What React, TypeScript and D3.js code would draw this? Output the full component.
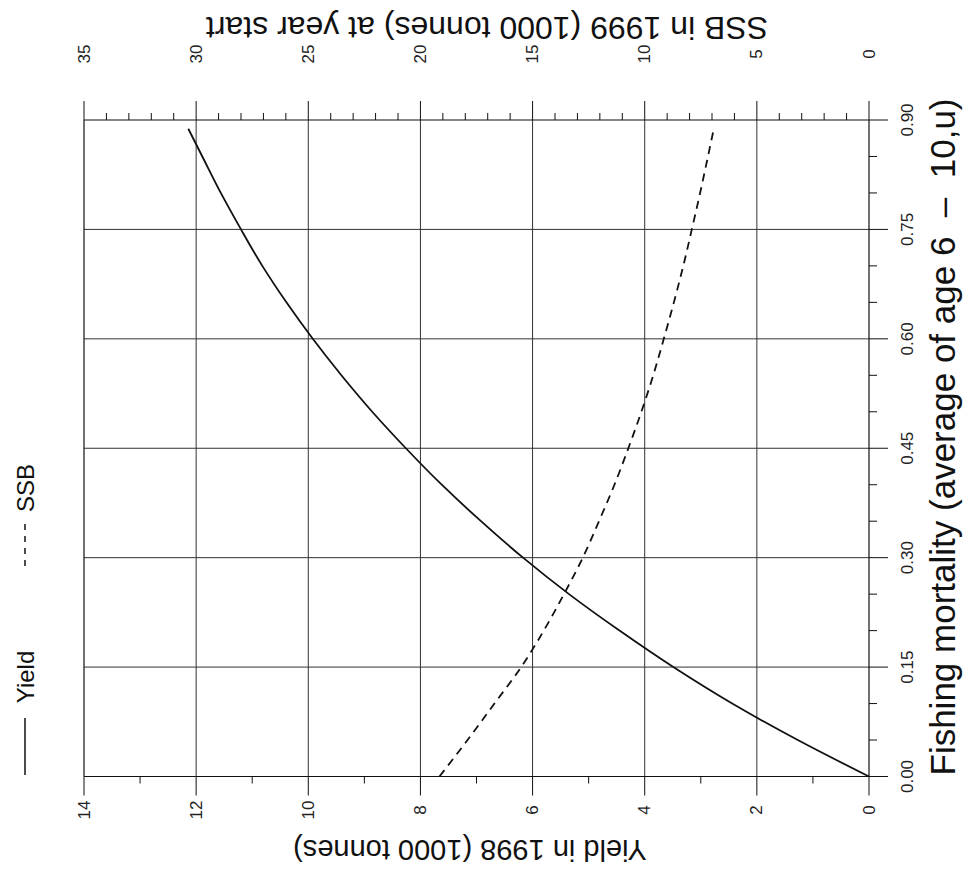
import React from "react";
import * as d3 from "d3";

const fValues = [0, 0.05, 0.1, 0.15, 0.2, 0.25, 0.3, 0.35, 0.4, 0.45, 0.5, 0.55, 0.6, 0.65, 0.7, 0.75, 0.8, 0.85, 0.888];
const yieldValues = [0, 1.27, 2.44, 3.49, 4.45, 5.35, 6.17, 6.92, 7.62, 8.26, 8.86, 9.41, 9.92, 10.39, 10.82, 11.2, 11.56, 11.89, 12.14];
const ssbValues = [19.15, 17.9, 16.7, 15.51, 14.5, 13.6, 12.76, 12.04, 11.35, 10.73, 10.15, 9.62, 9.15, 8.7, 8.28, 7.9, 7.53, 7.18, 6.92];

const fTicks = [0, 0.15, 0.3, 0.45, 0.6, 0.75, 0.9];
const yieldTicks = [0, 2, 4, 6, 8, 10, 12, 14];
const ssbTicks = [0, 5, 10, 15, 20, 25, 30, 35];

const W = 976;
const H = 879;
const FONT = "'Liberation Sans', Arial, Helvetica, sans-serif";

export default function App() {
  const fScale = d3.scaleLinear().domain([0, 0.9]).range([776.5, 120]);
  const yScale = d3.scaleLinear().domain([0, 14]).range([869, 84]);
  const sScale = d3.scaleLinear().domain([0, 35]).range([869, 84]);

  const yieldLine = d3
    .line<number>()
    .x((d, i) => yScale(yieldValues[i]))
    .y((d) => fScale(d))
    .curve(d3.curveMonotoneY);
  const ssbLine = d3
    .line<number>()
    .x((d, i) => sScale(ssbValues[i]))
    .y((d) => fScale(d))
    .curve(d3.curveMonotoneY);

  const [xL, xR] = [84, 869];
  const [yT, yB] = [120, 776.5];
  const ink = "#111";
  const grid = "#333";

  const ssbMinor = d3.range(0, 36, 1);
  const yieldMinor = d3.range(0, 15, 1);
  const fMinor = d3.range(0, 19, 1).map((k) => k * 0.05);

  return (
    <svg
      width={W}
      height={H}
      style={{ position: "absolute", left: 0, top: 0, background: "#fff" }}
      fontFamily={FONT}
    >
      <rect x={0} y={0} width={W} height={H} fill="#fff" />
      {yieldTicks.slice(1, -1).map((v) => (
        <line key={"gv" + v} x1={yScale(v)} x2={yScale(v)} y1={yT} y2={yB} stroke={grid} strokeWidth={1} />
      ))}
      {fTicks.slice(1, -1).map((v) => (
        <line key={"gh" + v} x1={xL} x2={xR} y1={fScale(v)} y2={fScale(v)} stroke={grid} strokeWidth={1} />
      ))}
      <line x1={xL} x2={xL} y1={yT} y2={yB} stroke={ink} strokeWidth={1.2} />
      <line x1={xR} x2={xR} y1={yT} y2={yB} stroke={ink} strokeWidth={1.2} />
      <line x1={xL} x2={xR} y1={yT} y2={yT} stroke={ink} strokeWidth={1.2} />
      <line x1={xL} x2={xR} y1={yB} y2={yB} stroke={ink} strokeWidth={1.2} />

      {ssbMinor.map((v) => {
        const major = v % 5 === 0;
        return (
          <line key={"st" + v} x1={sScale(v)} x2={sScale(v)} y1={yT} y2={yT - (major ? 19 : 7)} stroke={ink} strokeWidth={1} />
        );
      })}
      {ssbTicks.map((v) => (
        <text
          key={"sl" + v}
          transform={`translate(${sScale(v)},54) rotate(-90)`}
          textAnchor="middle"
          dominantBaseline="central"
          fontSize={17}
          fill="#222"
        >
          {v}
        </text>
      ))}
      <text
        transform={`translate(487,28) rotate(180)`}
        textAnchor="middle"
        dominantBaseline="central"
        fontSize={32}
        fill={ink}
      >
        SSB in 1999 (1000 tonnes) at year start
      </text>

      {yieldMinor.map((v) => {
        const major = v % 2 === 0;
        return (
          <line key={"yt" + v} x1={yScale(v)} x2={yScale(v)} y1={yB} y2={yB + (major ? 19 : 7)} stroke={ink} strokeWidth={1} />
        );
      })}
      {yieldTicks.map((v) => (
        <text
          key={"yl" + v}
          transform={`translate(${yScale(v)},810) rotate(-90)`}
          textAnchor="middle"
          dominantBaseline="central"
          fontSize={17}
          fill="#222"
        >
          {v}
        </text>
      ))}
      <text
        transform={`translate(470,850) rotate(180)`}
        textAnchor="middle"
        dominantBaseline="central"
        fontSize={29}
        fill={ink}
      >
        Yield in 1998 (1000 tonnes)
      </text>

      {fMinor.map((v, k) => {
        const major = k % 3 === 0;
        return (
          <line key={"ft" + k} x1={xR} x2={xR + (major ? 19 : 8)} y1={fScale(v)} y2={fScale(v)} stroke={ink} strokeWidth={1} />
        );
      })}
      {fTicks.map((v) => (
        <text
          key={"fl" + v}
          transform={`translate(907,${fScale(v)}) rotate(-90)`}
          textAnchor="middle"
          dominantBaseline="central"
          fontSize={17}
          fill="#222"
        >
          {v.toFixed(2)}
        </text>
      ))}
      <text
        transform={`translate(942,437) rotate(-90)`}
        textAnchor="middle"
        dominantBaseline="central"
        fontSize={35}
        fill={ink}
        xmlSpace="preserve"
      >
        {"Fishing mortality (average of age 6  –  10,u)"}
      </text>

      <path d={yieldLine(fValues) || ""} fill="none" stroke={ink} strokeWidth={1.8} />
      <path d={ssbLine(fValues) || ""} fill="none" stroke={ink} strokeWidth={1.8} strokeDasharray="8,6" />

      <line x1={25} x2={25} y1={775} y2={718} stroke={ink} strokeWidth={1.5} />
      <text transform="translate(25,677) rotate(-90)" textAnchor="middle" dominantBaseline="central" fontSize={24} fill={ink}>
        Yield
      </text>
      <line x1={25} x2={25} y1={566} y2={520} stroke={ink} strokeWidth={1.5} strokeDasharray="6,6" />
      <text transform="translate(25,488) rotate(-90)" textAnchor="middle" dominantBaseline="central" fontSize={24} fill={ink}>
        SSB
      </text>
    </svg>
  );
}
